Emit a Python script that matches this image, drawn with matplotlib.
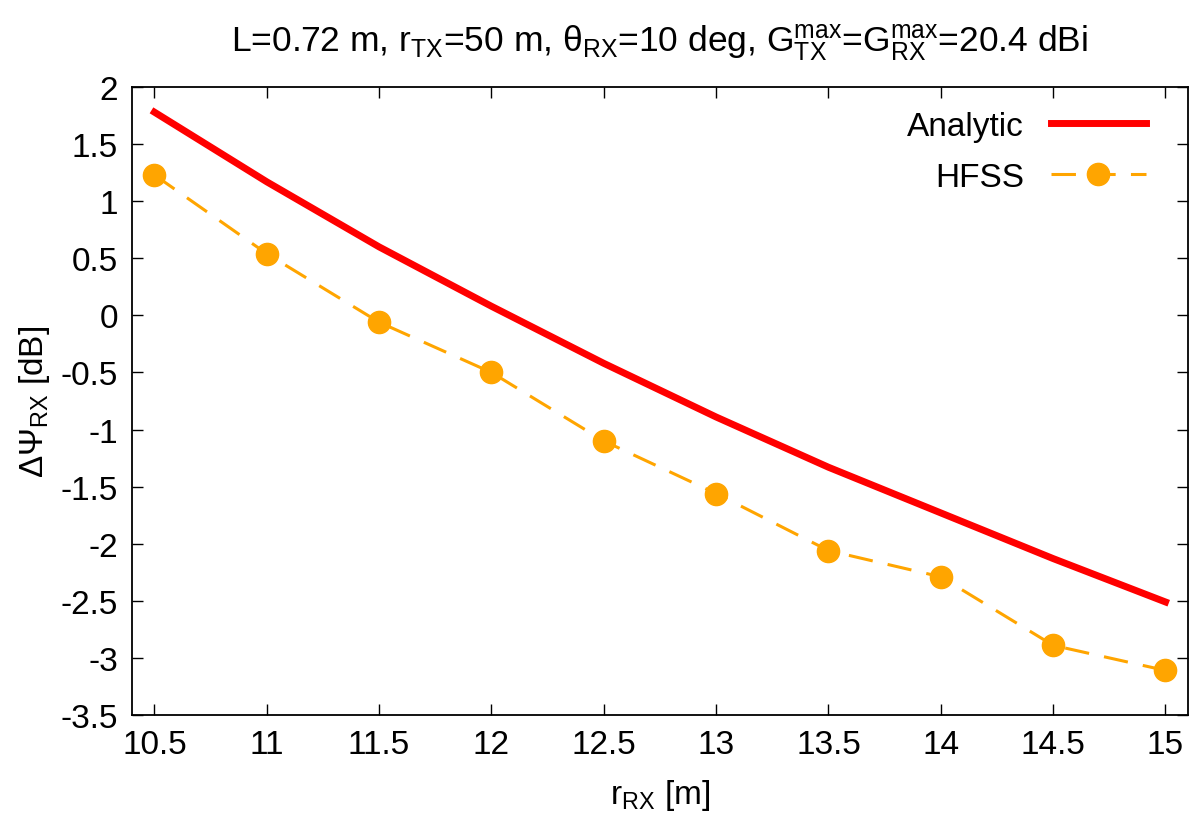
import matplotlib
matplotlib.use("Agg")
import matplotlib.pyplot as plt
from matplotlib.ticker import FormatStrFormatter, MultipleLocator

plt.rcParams["font.family"] = ["Liberation Sans", "DejaVu Sans"]
plt.rcParams["mathtext.fontset"] = "custom"
plt.rcParams["mathtext.rm"] = "Liberation Sans"
plt.rcParams["mathtext.it"] = "Liberation Sans"
plt.rcParams["axes.unicode_minus"] = False

# data
r_rx = [10.5, 11, 11.5, 12, 12.5, 13, 13.5, 14, 14.5, 15]
analytic = [1.78, 1.17, 0.60, 0.08, -0.42, -0.89, -1.33, -1.73, -2.13, -2.51]
hfss = [1.23, 0.54, -0.06, -0.50, -1.10, -1.56, -2.06, -2.29, -2.89, -3.11]

title = (r"L=0.72 m, r$_{\rm TX}$=50 m, θ$_{\rm RX}$=10 deg, "
         r"G$_{\rm TX}^{\rm max}$=G$_{\rm RX}^{\rm max}$=20.4 dBi")

fig = plt.figure(figsize=(12.03, 8.29), dpi=100)
ax = fig.add_axes([0.1097, 0.1363, 0.8778, 0.7575])

ax.plot(r_rx, analytic, color="#ff0000", lw=5, label="Analytic")
ax.plot(r_rx, hfss, color="#ffa500", lw=2.2, dashes=(8, 5), marker="o",
        markersize=16, label="HFSS")

ax.set_xlim(10.4, 15.1)
ax.set_ylim(-3.5, 2)
ax.xaxis.set_major_locator(MultipleLocator(0.5))
ax.yaxis.set_major_locator(MultipleLocator(0.5))
ax.xaxis.set_major_formatter(FormatStrFormatter("%g"))
ax.yaxis.set_major_formatter(FormatStrFormatter("%g"))
ax.tick_params(direction="in", length=8, width=1, top=True, right=True,
               labelsize=24, pad=10)
for s in ax.spines.values():
    s.set_linewidth(1.3)

ax.set_xlabel(r"r$_{\rm RX}$ [m]", fontsize=24, labelpad=12)
ax.set_ylabel(r"ΔΨ$_{\rm RX}$ [dB]", fontsize=24, labelpad=6)
ax.set_title(title, fontsize=25.5, pad=26)

ax.legend(loc="upper right", bbox_to_anchor=(0.9725, 0.983), frameon=False,
          fontsize=24, markerfirst=False, handlelength=2.85,
          handletextpad=0.8, labelspacing=0.6, borderaxespad=0)

fig.savefig("out.png", dpi=100)
